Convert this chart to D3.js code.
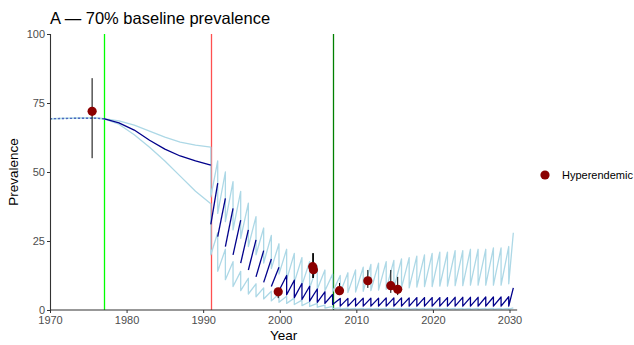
<!DOCTYPE html>
<html>
<head>
<meta charset="utf-8">
<script src="https://cdn.jsdelivr.net/npm/d3@7"></script>
<style>
  body { margin: 0; background: #fff; }
  svg { font-family: "Liberation Sans", Arial, sans-serif; }
</style>
</head>
<body>
<div id="chart"></div>
<script>
// ---- data ----
const title = "A \u2014 70% baseline prevalence";
const xTicks = [1970, 1980, 1990, 2000, 2010, 2020, 2030];
const yTicks = [0, 25, 50, 75, 100];

// vertical event lines
const eventYears = [1977, 1991, 2007];
const eventColors = ["#00ff00", "#ff5050", "#008000"];

// pre-treatment trajectory (before 1991)
const preYears  = [1970, 1972, 1974, 1976, 1977, 1979, 1981, 1983, 1985, 1987, 1989];
const preMedian = [69.3, 69.4, 69.5, 69.5, 69.3, 67.8, 65.2, 61.5, 58.3, 55.8, 54.0];
const preUpper  = [69.3, 69.4, 69.6, 69.6, 69.3, 68.5, 67.0, 64.8, 62.6, 60.8, 59.7];
const preLower  = [69.3, 69.4, 69.5, 69.5, 69.3, 67.3, 63.5, 59.0, 54.0, 48.5, 43.0];
// the flat start where all three overlap looks dotted
const flatUntil = 1977;

// treatment rounds: value just before (peak) and just after (trough) each round
const roundYears = [1991.0, 1991.9, 1992.9, 1993.9, 1994.9, 1995.9, 1996.9, 1997.9, 1998.9, 1999.9,
                    2000.9, 2001.9, 2002.9, 2003.9, 2004.9, 2005.9, 2006.9, 2007.9, 2008.9, 2009.9,
                    2010.9, 2011.9, 2012.9, 2013.9, 2014.9, 2015.9, 2016.9, 2017.9, 2018.9, 2019.9,
                    2020.9, 2021.9, 2022.9, 2023.9, 2024.9, 2025.9, 2026.9, 2027.9, 2028.9, 2029.9];
const medianPeak   = [52.5, 46, 40.4, 36.8, 32.6, 29, 25.4, 21.5, 18.5, 15.5,
                      12.5, 10.8, 9.6, 8.6, 7.6, 6.6, 5.6, 4.2, 4.2, 4.3,
                      4.3, 4.3, 4.3, 4.4, 4.4, 4.4, 4.4, 4.5, 4.5, 4.5,
                      4.5, 4.5, 4.6, 4.6, 4.6, 4.6, 4.7, 4.7, 4.7, 4.8];
const medianTrough = [31, 26.6, 23, 20, 17, 14.5, 12, 10, 8.5, 7,
                      5.5, 4.5, 3.8, 3.2, 2.8, 2.4, 2.0, 1.4, 1.4, 1.4,
                      1.4, 1.4, 1.4, 1.4, 1.4, 1.4, 1.4, 1.4, 1.4, 1.4,
                      1.4, 1.4, 1.4, 1.4, 1.4, 1.4, 1.4, 1.4, 1.4, 1.4];
const upperPeak    = [59, 54, 50, 46.5, 43, 38.7, 33.8, 29.7, 27, 24,
                      22, 20.5, 19, 17.5, 16, 14.5, 13, 12.5, 13.5, 14.5,
                      15.5, 16.5, 17, 17.5, 18, 18.5, 19, 19.5, 20, 20.5,
                      21, 21, 21.5, 21.5, 22, 22, 22, 22.5, 22.5, 23];
const upperTrough  = [41, 35, 32, 29, 26, 23, 20, 17, 15, 13,
                      11, 10, 9, 8, 7.5, 7, 6.5, 6.3, 6.3, 6.5,
                      6.8, 7, 7.2, 7.5, 7.8, 8, 8, 8.3, 8.5, 8.5,
                      8.7, 8.7, 8.8, 8.8, 9, 9, 9, 9, 9, 9.5];
const lowerPeak    = [38.5, 28, 22, 17.5, 14, 11.5, 9.5, 8, 6.8, 5.8,
                      5, 4.3, 3.6, 3, 2.4, 1.8, 1.3, 0.8, 0.7, 0.6,
                      0.6, 0.6, 0.6, 0.6, 0.6, 0.6, 0.6, 0.6, 0.6, 0.6,
                      0.6, 0.6, 0.6, 0.6, 0.6, 0.6, 0.6, 0.6, 0.6, 0.6];
const lowerTrough  = [20, 14, 11, 8.5, 7, 5.8, 4.8, 4, 3.3, 2.8,
                      2.4, 2, 1.6, 1.3, 1, 0.7, 0.5, 0.3, 0.3, 0.3,
                      0.3, 0.3, 0.3, 0.3, 0.3, 0.3, 0.3, 0.3, 0.3, 0.3,
                      0.3, 0.3, 0.3, 0.3, 0.3, 0.3, 0.3, 0.3, 0.3, 0.3];
const endYear = 2030.5;
const endMedian = 8, endUpper = 28, endLower = 0.8;
// median drawn without the drop strokes until this year
const medianJoinFrom = 2000.5;

// observed surveys
const obsYears = [1975.5, 1999.8, 2004.3, 2004.4, 2007.8, 2011.5, 2014.5, 2015.4];
const obsValue = [72, 6.6, 15.7, 14.6, 7, 10.6, 8.8, 7.5];
const obsLow   = [55, 4.3, 11.6, 11.6, 5.4, 8, 6.2, 5.4];
const obsHigh  = [84, 8, 20.6, 20.6, 9.8, 14.5, 14.5, 12];
const legendLabel = "Hyperendemic";

// ---- layout ----
const width = 634, height = 345;
const margin = { top: 34, right: 117, bottom: 35, left: 50 };

const svg = d3.select("#chart").append("svg")
  .attr("width", width)
  .attr("height", height);

const x = d3.scaleLinear().domain([1970, 2030]).range([50, 509.5]);
const y = d3.scaleLinear().domain([0, 100]).range([height - margin.bottom, margin.top]);
const xEnd = x(2031);

// series building
function buildSeries(pre, peak, trough, endVal) {
  const pts = preYears.map((yr, i) => [yr, pre[i]]);
  roundYears.forEach((yr, i) => { pts.push([yr, peak[i]]); pts.push([yr, trough[i]]); });
  pts.push([endYear, endVal]);
  return pts;
}
function buildMedianSegments() {
  const segs = [];
  let cur = preYears.filter(yr => yr >= flatUntil).map(yr => [yr, preMedian[preYears.indexOf(yr)]]);
  roundYears.forEach((yr, i) => {
    cur.push([yr, medianPeak[i]]);
    if (yr < medianJoinFrom) { segs.push(cur); cur = []; }
    cur.push([yr, medianTrough[i]]);
  });
  cur.push([endYear, endMedian]);
  segs.push(cur);
  return segs;
}
const flatMedian = preYears.filter(yr => yr <= flatUntil).map(yr => [yr, preMedian[preYears.indexOf(yr)]]);

const line = d3.line().x(d => x(d[0])).y(d => y(d[1]));

// event lines
svg.append("g").selectAll("line")
  .data(eventYears)
  .join("line")
    .attr("x1", d => Math.round(x(d)) + 0.5).attr("x2", d => Math.round(x(d)) + 0.5)
    .attr("y1", y(0)).attr("y2", y(100))
    .attr("stroke", (d, i) => eventColors[i])
    .attr("stroke-width", 1.3);

// bounds
const bounds = [
  buildSeries(preUpper, upperPeak, upperTrough, endUpper),
  buildSeries(preLower, lowerPeak, lowerTrough, endLower)
];
svg.append("g").selectAll("path")
  .data(bounds)
  .join("path")
    .attr("d", line)
    .attr("fill", "none")
    .attr("stroke", "#add8e6")
    .attr("stroke-width", 1.3)
    .attr("stroke-linejoin", "round");

// median, flat start dotted over the bounds
svg.append("path")
  .attr("d", line(flatMedian))
  .attr("fill", "none")
  .attr("stroke", "#5068c0")
  .attr("stroke-width", 1.4)
  .attr("stroke-dasharray", "2,2");
svg.append("g").selectAll("path")
  .data(buildMedianSegments())
  .join("path")
    .attr("d", line)
    .attr("fill", "none")
    .attr("stroke", "#00008b")
    .attr("stroke-width", 1.3)
    .attr("stroke-linejoin", "round");

// error bars
svg.append("g").selectAll("line")
  .data(obsYears)
  .join("line")
    .attr("x1", d => x(d)).attr("x2", d => x(d))
    .attr("y1", (d, i) => y(obsLow[i]))
    .attr("y2", (d, i) => y(obsHigh[i]))
    .attr("stroke", "#000")
    .attr("stroke-width", 1);

// points
svg.append("g").selectAll("circle")
  .data(obsYears)
  .join("circle")
    .attr("cx", d => x(d))
    .attr("cy", (d, i) => y(obsValue[i]))
    .attr("r", 4.6)
    .attr("fill", "#8b0000");

// axes
const xAxis = svg.append("g")
  .attr("transform", `translate(0,${y(0)})`)
  .call(d3.axisBottom(x).tickValues(xTicks).tickFormat(d3.format("d")).tickSizeOuter(0).tickSize(3));
xAxis.select(".domain").attr("d", `M${x(1970)},0H${xEnd}`);
const yAxis = svg.append("g")
  .attr("transform", `translate(${x(1970)},0)`)
  .call(d3.axisLeft(y).tickValues(yTicks).tickSizeOuter(0).tickSize(3));

[xAxis, yAxis].forEach(a => {
  a.select(".domain").attr("stroke", "#333").attr("stroke-width", 1.1);
  a.selectAll(".tick line").attr("stroke", "#333");
  a.selectAll(".tick text").attr("fill", "#4d4d4d").style("font-size", "11px");
});
xAxis.selectAll(".tick text").attr("dy", "0.85em").attr("y", 5);
yAxis.selectAll(".tick text").attr("x", -5).attr("dy", "0.3em");

// axis titles
svg.append("text")
  .attr("x", (x(1970) + xEnd) / 2)
  .attr("y", 340)
  .attr("text-anchor", "middle")
  .style("font-size", "13.5px")
  .text("Year");
svg.append("text")
  .attr("transform", `translate(18,${(y(0) + y(100)) / 2}) rotate(-90)`)
  .attr("text-anchor", "middle")
  .style("font-size", "13.5px")
  .text("Prevalence");

// title
svg.append("text")
  .attr("x", 50)
  .attr("y", 24)
  .style("font-size", "16.5px")
  .text(title);

// legend
const legend = svg.append("g").attr("transform", "translate(545,175)");
legend.append("circle").attr("r", 4.6).attr("fill", "#8b0000");
legend.append("text")
  .attr("x", 17)
  .attr("dy", "0.35em")
  .style("font-size", "11px")
  .text(legendLabel);
</script>
</body>
</html>
